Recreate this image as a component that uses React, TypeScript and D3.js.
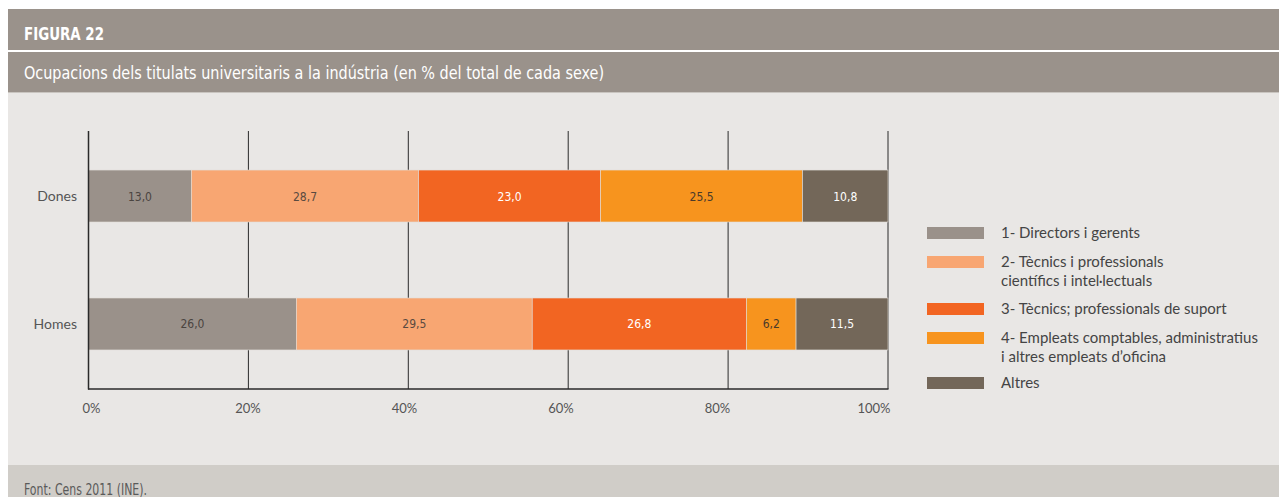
import React from "react";
import * as d3 from "d3";

const categories = ["Dones", "Homes"];
const seriesKeys = ["directors", "tecnicsProf", "tecnicsSuport", "empleats", "altres"];
const directors = [13.0, 26.0];
const tecnicsProf = [28.7, 29.5];
const tecnicsSuport = [23.0, 26.8];
const empleats = [25.5, 6.2];
const altres = [10.8, 11.5];
const seriesColors = ["#9a918a", "#f8a672", "#f26522", "#f7941e", "#736759"];
const labelColors = ["#4a4440", "#5a4a40", "#ffffff", "#4a3a2a", "#ffffff"];
const legendLabels = [
  ["1- Directors i gerents"],
  ["2- Tècnics i professionals", "científics i intel·lectuals"],
  ["3- Tècnics; professionals de suport"],
  ["4- Empleats comptables, administratius", "i altres empleats d’oficina"],
  ["Altres"],
];
const xTicks = [0, 20, 40, 60, 80, 100];
const figureTitle = "FIGURA 22";
const subtitle = "Ocupacions dels titulats universitaris a la indústria (en % del total de cada sexe)";
const source = "Font: Cens 2011 (INE).";

const W = 1279;
const H = 497;
const narrow = "'Liberation Sans Narrow', 'DejaVu Sans Condensed', 'Roboto Condensed', sans-serif";
const sans = "Lato, 'Open Sans', sans-serif";

export default function App() {
  const seriesValues = [directors, tecnicsProf, tecnicsSuport, empleats, altres];
  const rows = categories.map((c, i) => {
    const r: any = { cat: c };
    seriesKeys.forEach((k, j) => (r[k] = seriesValues[j][i]));
    return r;
  });
  const stacked = d3.stack<any>().keys(seriesKeys).offset(d3.stackOffsetExpand)(rows);

  const x = d3.scaleLinear().domain([0, 1]).range([88.5, 888]);
  const y = d3
    .scaleBand<string>()
    .domain(categories)
    .range([131, 389])
    .paddingInner(0.594)
    .paddingOuter(0.305);
  const fmt = (v: number) => v.toFixed(1).replace(".", ",");

  const legendTop = [233, 262, 309, 338, 383];

  return (
    <svg
      width={W}
      height={H}
      style={{ position: "absolute", left: 0, top: 0, display: "block" }}
    >
      <rect x={0} y={0} width={W} height={H} fill="#ffffff" />
      {/* header */}
      <rect x={8} y={9} width={W - 8} height={41} fill="#9a928b" />
      <rect x={8} y={52} width={W - 8} height={40} fill="#9a928b" />
      <rect x={8} y={92} width={W - 8} height={1} fill="#c9c5c0" />
      <rect x={8} y={93} width={W - 8} height={372} fill="#e9e7e5" />
      <rect x={8} y={465} width={W - 8} height={32} fill="#d0cdc8" />
      <text x={24} y={40} fill="#ffffff" fontFamily={narrow} fontWeight="bold" fontSize={17} textLength={80} lengthAdjust="spacingAndGlyphs">
        {figureTitle}
      </text>
      <text x={24} y={78.5} fill="#ffffff" fontFamily={narrow} fontSize={18} textLength={580} lengthAdjust="spacingAndGlyphs">
        {subtitle}
      </text>
      <text x={24} y={495} fill="#5a5a5a" fontFamily={narrow} fontSize={16} textLength={123} lengthAdjust="spacingAndGlyphs">
        {source}
      </text>

      {/* grid */}
      {xTicks.map((t) => (
        <line key={t} x1={x(t / 100)} x2={x(t / 100)} y1={131} y2={389} stroke="#2a2a2a" strokeWidth={1} />
      ))}

      {/* bars */}
      {stacked.map((s, j) => (
        <g key={s.key}>
          {s.map((d, i) => {
            const x0 = x(d[0]);
            const x1 = x(d[1]);
            const yy = y(categories[i]) as number;
            return (
              <g key={i}>
                <rect x={x0} y={yy} width={x1 - x0} height={y.bandwidth()} fill={seriesColors[j]} stroke="#e2ddd8" strokeWidth={0.6} />
                <text
                  x={(x0 + x1) / 2}
                  y={yy + y.bandwidth() / 2 + 4.5}
                  textAnchor="middle"
                  fill={labelColors[j]}
                  fontFamily={narrow}
                  fontSize={12}
                  style={{ fontStretch: "condensed" }}
                >
                  {fmt(seriesValues[j][i])}
                </text>
              </g>
            );
          })}
        </g>
      ))}

      {/* axes */}
      <line x1={88} x2={888.5} y1={389} y2={389} stroke="#2a2a2a" strokeWidth={1.5} />
      <line x1={88.5} x2={88.5} y1={131} y2={389.5} stroke="#2a2a2a" strokeWidth={1.5} />
      {xTicks.map((t) => (
        <text
          key={t}
          x={x(t / 100) + 3 - 17 * (t / 100)}
          y={413}
          textAnchor="middle"
          fill="#555555"
          fontFamily={sans}
          fontSize={13}
        >
          {t}%
        </text>
      ))}
      {categories.map((c) => (
        <text
          key={c}
          x={77}
          y={(y(c) as number) + y.bandwidth() / 2 + 5}
          textAnchor="end"
          fill="#555555"
          fontFamily={sans}
          fontSize={14}
        >
          {c}
        </text>
      ))}

      {/* legend */}
      {legendLabels.map((lines, j) => (
        <g key={j}>
          <rect x={927} y={legendTop[j] - 6} width={57} height={12} fill={seriesColors[j]} />
          {lines.map((ln, k) => (
            <text key={k} x={1001} y={legendTop[j] + 5 + k * 19} fill="#444444" fontFamily={sans} fontSize={15}>
              {ln}
            </text>
          ))}
        </g>
      ))}
    </svg>
  );
}
